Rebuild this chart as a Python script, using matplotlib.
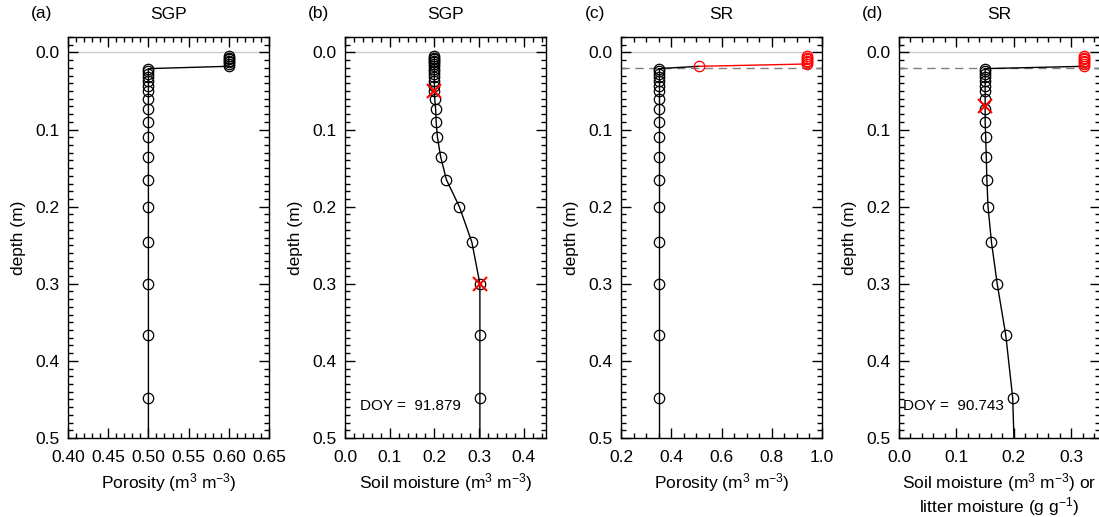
import numpy as np
import matplotlib.pyplot as plt
from matplotlib.ticker import MultipleLocator

plt.rcParams['font.family'] = ['Liberation Sans', 'DejaVu Sans']
plt.rcParams['mathtext.fontset'] = 'custom'
plt.rcParams['mathtext.rm'] = 'Liberation Sans'
plt.rcParams['mathtext.it'] = 'Liberation Sans'

# node depths (m)
depth_litter = [0.005, 0.007, 0.009, 0.011, 0.013, 0.015, 0.018]
depth_soil = [0.021, 0.024, 0.028, 0.032, 0.037, 0.043, 0.050, 0.061, 0.074, 0.090,
              0.110, 0.135, 0.165, 0.200, 0.246, 0.300, 0.367, 0.448, 0.547]

# (a) SGP porosity
sgp_por_litter = [0.6, 0.6, 0.6, 0.6, 0.6, 0.6, 0.6]
sgp_por_soil = [0.5] * 19

# (b) SGP soil moisture
sgp_sm_litter = [0.2, 0.2, 0.2, 0.2, 0.2, 0.2, 0.2]
sgp_sm_soil = [0.2, 0.2, 0.2, 0.2, 0.2, 0.2, 0.2, 0.201, 0.203, 0.204,
               0.207, 0.214, 0.227, 0.256, 0.284, 0.302, 0.302, 0.302, 0.302]
sgp_obs_x = [0.2, 0.302]
sgp_obs_depth = [0.05, 0.30]

# (c) SR porosity
sr_por_litter = [0.94, 0.94, 0.94, 0.94, 0.94, 0.94, 0.51]
sr_por_soil = [0.35] * 19

# (d) SR soil / litter moisture
sr_sm_litter = [0.322, 0.322, 0.322, 0.322, 0.322, 0.322, 0.322]
sr_sm_soil = [0.15, 0.15, 0.15, 0.15, 0.15, 0.15, 0.15, 0.15, 0.15, 0.15,
              0.151, 0.152, 0.153, 0.155, 0.161, 0.171, 0.186, 0.198, 0.202]
sr_obs_x = [0.15]
sr_obs_depth = [0.07]

interface_depth = 0.02

fig = plt.figure(figsize=(10.99, 5.17), dpi=100)
W, H = 1099.0, 517.0
lefts = [68, 345, 621, 899]
width = 201
top, bottom = 37, 438
axes = [fig.add_axes([l / W, (H - bottom) / H, width / W, (bottom - top) / H]) for l in lefts]

letters = ['(a)', '(b)', '(c)', '(d)']
titles = ['SGP', 'SGP', 'SR', 'SR']
xlims = [(0.40, 0.65), (0.0, 0.45), (0.2, 1.0), (0.0, 0.35)]
xmajor = [0.05, 0.1, 0.2, 0.1]
xminor = [0.01, 0.02, 0.05, 0.02]
xfmt = ['%.2f', '%.1f', '%.1f', '%.1f']
xlabels = ['Porosity (m$^{3}$ m$^{-3}$)',
           'Soil moisture (m$^{3}$ m$^{-3}$)',
           'Porosity (m$^{3}$ m$^{-3}$)',
           'Soil moisture (m$^{3}$ m$^{-3}$) or\nlitter moisture (g g$^{-1}$)']

circ = dict(marker='o', ms=7.5, mfc='none', mew=0.9)

# (a)
ax = axes[0]
ax.plot(sgp_por_litter + sgp_por_soil, depth_litter + depth_soil,
        color='k', lw=1, mec='k', **circ)

# (b)
ax = axes[1]
ax.plot(sgp_sm_litter + sgp_sm_soil, depth_litter + depth_soil,
        color='k', lw=1, mec='k', **circ)
ax.plot(sgp_obs_x, sgp_obs_depth, ls='none', marker='x', ms=10, mew=1.5, color='red')
ax.text(0.033, 0.458, 'DOY =  91.879', fontsize=11, va='center')

# (c)
ax = axes[2]
ax.axhline(interface_depth, color='0.5', lw=1, ls=(0, (6, 4)))
ax.plot(sr_por_soil, depth_soil, color='k', lw=1, mec='k', **circ)
ax.plot([sr_por_soil[0], sr_por_litter[-1]], [depth_soil[0], depth_litter[-1]],
        color='k', lw=1)
ax.plot(sr_por_litter, depth_litter, color='red', lw=1, mec='red', **circ)

# (d)
ax = axes[3]
ax.axhline(interface_depth, color='0.5', lw=1, ls=(0, (6, 4)))
ax.plot(sr_sm_soil, depth_soil, color='k', lw=1, mec='k', **circ)
ax.plot([sr_sm_soil[0], sr_sm_litter[-1]], [depth_soil[0], depth_litter[-1]],
        color='k', lw=1)
ax.plot(sr_sm_litter, depth_litter, ls='none', mec='red', **circ)
ax.plot(sr_obs_x, sr_obs_depth, ls='none', marker='x', ms=10, mew=1.5, color='red')
ax.text(0.007, 0.459, 'DOY =  90.743', fontsize=11, va='center')

for i, ax in enumerate(axes):
    ax.axhline(0.0, color='0.8', lw=1, zorder=0)
    ax.set_xlim(*xlims[i])
    ax.set_ylim(0.5, -0.02)
    ax.xaxis.set_major_locator(MultipleLocator(xmajor[i]))
    ax.xaxis.set_minor_locator(MultipleLocator(xminor[i]))
    ax.xaxis.set_major_formatter(plt.FormatStrFormatter(xfmt[i]))
    ax.yaxis.set_major_locator(MultipleLocator(0.1))
    ax.yaxis.set_minor_locator(MultipleLocator(0.01))
    ax.yaxis.set_major_formatter(plt.FormatStrFormatter('%.1f'))
    ax.tick_params(which='both', direction='in', top=True, right=True,
                   labelsize=12.5, width=1)
    ax.tick_params(which='major', length=7)
    ax.tick_params(axis='x', which='major', pad=9)
    ax.tick_params(axis='y', which='major', pad=6)
    ax.tick_params(which='minor', length=3.5)
    ax.set_xlabel(xlabels[i], fontsize=12.5, labelpad=4, linespacing=1.05)
    ax.set_ylabel('depth (m)', fontsize=12.5, labelpad=7)
    ax.set_title(titles[i], fontsize=12.5, pad=13)
    ax.text(-0.13, 1.058, letters[i], transform=ax.transAxes, fontsize=12.5,
            ha='center', va='center')
    for s in ax.spines.values():
        s.set_linewidth(1)

fig.savefig('out.png', dpi=100)
